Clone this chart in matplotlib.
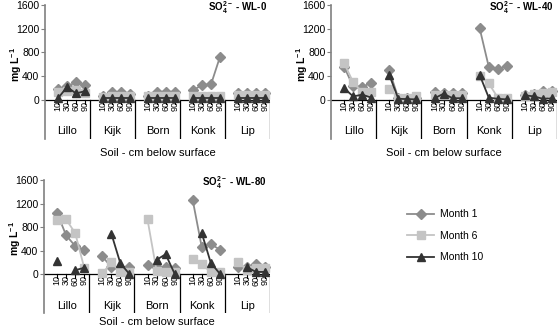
import numpy as np
import matplotlib
matplotlib.use('Agg')
import matplotlib.pyplot as plt

plt.rcParams['font.family'] = ['Liberation Sans', 'DejaVu Sans']
plt.rcParams['mathtext.fontset'] = 'custom'
plt.rcParams['mathtext.rm'] = 'Liberation Sans'
plt.rcParams['mathtext.bf'] = 'Liberation Sans:bold'

soils = ['Lillo', 'Kijk', 'Born', 'Konk', 'Lip']
depths = ['10', '30', '60', '90']
months = ['Month 1', 'Month 6', 'Month 10']
titles = ['WL-0', 'WL-40', 'WL-80']

nan = np.nan
# sulfate (mg L-1), one row per soil, columns = depth 10/30/60/90 cm
wl0_m1 = [[190, 230, 300, 245], [70, 140, 130, 95], [70, 140, 140, 140], [165, 250, 265, 730], [125, 125, 125, 125]]
wl0_m6 = [[130, 150, 170, 110], [50, 60, 60, 60], [60, 60, 60, 60], [70, 60, 60, 60], [90, 90, 90, 90]]
wl0_m10 = [[30, 220, 110, 150], [40, 40, 40, 40], [40, 40, 40, 40], [40, 40, 40, 40], [40, 40, 40, 40]]

wl40_m1 = [[560, 230, 220, 290], [500, 30, 30, 30], [130, 120, 110, 110], [1205, 560, 520, 570], [90, 100, 150, 150]]
wl40_m6 = [[620, 300, 130, 130], [190, 40, 40, 70], [90, 80, 80, 80], [400, 280, 40, 30], [60, 100, 110, 140]]
wl40_m10 = [[200, 60, 90, 40], [420, 20, 15, 10], [30, 105, 30, 30], [420, 40, 20, 10], [80, 60, 20, 30]]

wl80_m1 = [[1040, 660, 480, 415], [305, 120, 110, 130], [160, 120, 125, 110], [1260, 460, 510, 420], [120, 130, 170, 130]]
wl80_m6 = [[920, 930, 700, 110], [15, 200, 40, 40], [930, 60, 40, 40], [260, 170, 40, 40], [210, 80, 110, 110]]
wl80_m10 = [[230, nan, 70, 110], [nan, 690, 185, 5], [nan, 245, 340, 10], [nan, 700, 195, 10], [nan, 120, 40, 40]]

panels = [(wl0_m1, wl0_m6, wl0_m10), (wl40_m1, wl40_m6, wl40_m10), (wl80_m1, wl80_m6, wl80_m10)]

colors = ['#8c8c8c', '#c4c4c4', '#333333']
markers = ['D', 's', '^']
msizes = [5, 6, 6]

W, H = 558, 331
fig = plt.figure(figsize=(W / 100, H / 100), dpi=100)

# axes boxes in pixels: left, top, right, bottom
boxes = [(45, 5, 270, 139), (331, 5, 557, 139), (44, 180, 270, 313)]
xlab_gap = [14, 14, 9]
ymin = -657

axes = []
for i, (l, t, r, b) in enumerate(boxes):
    ax = fig.add_axes([l / W, 1 - b / H, (r - l) / W, (b - t) / H])
    axes.append(ax)
    data = panels[i]
    for g in range(len(soils)):
        xs = [5 * g + 1.45 + k for k in range(len(depths))]
        for m in range(3):
            ax.plot(xs, data[m][g], color=colors[m], marker=markers[m],
                    ms=msizes[m], lw=1.3, mec=colors[m], zorder=3 + m,
                    label=months[m] if g == 0 else None, clip_on=False)
        # depth labels and ticks
        for k, d in enumerate(depths):
            ax.plot([xs[k], xs[k]], [0, -60], color='black', lw=0.8)
            ax.text(xs[k], -20, d, rotation=90, ha='center', va='top', fontsize=6.5)
        ax.text(5 * g + 2.5, -530, soils[g], ha='center', va='center', fontsize=8)
        ax.plot([5 * (g + 1), 5 * (g + 1)], [0, ymin], color='black', lw=0.9)
    ax.axhline(0, color='black', lw=0.9)
    ax.set_xlim(0, 25)
    ax.set_ylim(ymin, 1600)
    for s in ['top', 'right', 'bottom']:
        ax.spines[s].set_visible(False)
    ax.spines['left'].set_color('#808080')
    ax.spines['left'].set_linewidth(1.2)
    ax.set_xticks([])
    ax.set_yticks([0, 400, 800, 1200, 1600])
    ax.tick_params(axis='y', labelsize=7.5, length=3, color='#808080', pad=1)
    ax.text(-0.13, 600, r'mg L$^{\mathbf{-1}}$', transform=ax.get_yaxis_transform(),
            rotation=90, ha='center', va='center', fontsize=7.5, fontweight='bold')
    ax.text(0.985, 1560, r'SO$_\mathbf{4}^\mathbf{2-}$ - ' + titles[i], transform=ax.get_yaxis_transform(),
            ha='right', va='center', fontsize=7, fontweight='bold')
    ax.text(0.5, -xlab_gap[i] / (b - t), 'Soil - cm below surface', transform=ax.transAxes,
            ha='center', va='center', fontsize=8)

handles, labels = axes[0].get_legend_handles_labels()
fig.legend(handles, labels, loc='upper left', bbox_to_anchor=(398 / W, 1 - 200 / H),
           frameon=False, fontsize=7.5, handlelength=2.6, labelspacing=1.1, handletextpad=0.5)

fig.savefig('out.png', dpi=100)
